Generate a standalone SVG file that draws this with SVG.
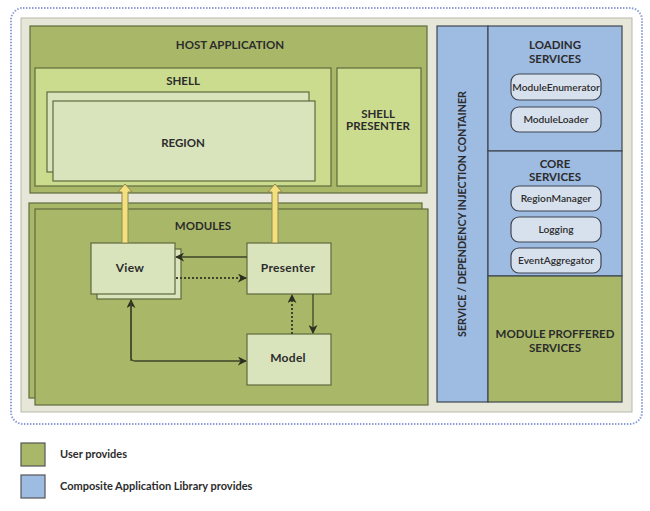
<svg xmlns="http://www.w3.org/2000/svg" width="650" height="511" viewBox="0 0 650 511">
<defs>
<style>
text{font-family:Lato,"Open Sans","Liberation Sans",sans-serif;font-weight:bold;fill:#2c2c2c;text-anchor:middle}
.cap{font-size:11.5px}
.rot{font-size:10.7px}
.nm{font-size:12px;letter-spacing:0.3px}
.pill{font-size:10.2px;font-weight:600}
.leg{font-size:11px;text-anchor:start}
.g{fill:#a9b868;stroke:#5f6a3c;stroke-width:1.2}
.lg{fill:#cbdc8f;stroke:#5f6a3c;stroke-width:1.2}
.pg{fill:#d9e4bd;stroke:#5f6a3c;stroke-width:1.2}
.b{fill:#9ebbe2;stroke:#3f4650;stroke-width:1.2}
.p{fill:#d7e1ee;stroke:#3f4650;stroke-width:1.2}
.ln{fill:none;stroke:#3d4429;stroke-width:1.3}
.dt{stroke-dasharray:2 2;stroke-width:2}
.ya{fill:#f4e07c;stroke:#8d8a55;stroke-width:1}
</style>
<marker id="ah" viewBox="0 0 10 10" refX="9" refY="5" markerWidth="9" markerHeight="9" markerUnits="userSpaceOnUse" orient="auto">
<path d="M0,0 L10,5 L0,10 L3,5 z" fill="#2b2f1f"/>
</marker>
</defs>
<rect id="frame" x="11" y="8" width="631" height="416" rx="12" fill="none" stroke="#8f9ed8" stroke-width="2" stroke-dasharray="1.5 1.5"/>
<rect id="panel" x="21" y="18" width="611" height="394" fill="#e7e7d9" stroke="#b7b9a8" stroke-width="1"/>
<g id="host">
<rect class="g" x="30" y="26" width="397" height="167"/>
<text class="cap" x="230" y="49">HOST APPLICATION</text>
</g>
<g id="shell">
<rect class="lg" x="35" y="68" width="296" height="118"/>
<text class="cap" x="183" y="85">SHELL</text>
</g>
<g id="region">
<rect class="pg" x="47" y="92" width="262" height="80"/>
<rect class="pg" x="53" y="101" width="262" height="80"/>
<text class="cap" x="183" y="147">REGION</text>
</g>
<g id="shellpresenter">
<rect class="lg" x="337" y="68" width="84" height="118"/>
<text class="cap" x="378" y="118">SHELL</text>
<text class="cap" x="378" y="130">PRESENTER</text>
</g>
<g id="modules">
<rect class="g" x="29" y="203" width="393" height="195"/>
<rect class="g" x="35" y="209" width="393" height="196"/>
<text class="cap" x="203" y="230">MODULES</text>
</g>
<g id="view">
<rect class="pg" x="97" y="249" width="84" height="50"/>
<rect class="pg" x="91" y="243" width="84" height="51"/>
<text class="nm" x="130" y="272">View</text>
</g>
<g id="presenter">
<rect class="pg" x="247" y="243" width="84" height="51"/>
<text class="nm" x="288" y="272">Presenter</text>
</g>
<g id="model">
<rect class="pg" x="247" y="334" width="84" height="51"/>
<text class="nm" x="288" y="362">Model</text>
</g>
<g id="container">
<rect class="b" x="437" y="26" width="51" height="376"/>
<text class="rot" transform="translate(466 214) rotate(-90)">SERVICE / DEPENDENCY INJECTION CONTAINER</text>
</g>
<g id="loading">
<rect class="b" x="488" y="26" width="134" height="125"/>
<text class="cap" x="555" y="49">LOADING</text>
<text class="cap" x="555" y="63">SERVICES</text>
</g>
<g id="moduleenumerator">
<rect class="p" x="511" y="74" width="90" height="26" rx="8"/>
<text class="pill" x="556" y="91">ModuleEnumerator</text>
</g>
<g id="moduleloader">
<rect class="p" x="511" y="107" width="90" height="25" rx="8"/>
<text class="pill" x="556" y="123">ModuleLoader</text>
</g>
<g id="core">
<rect class="b" x="488" y="151" width="134" height="125"/>
<text class="cap" x="555" y="168">CORE</text>
<text class="cap" x="555" y="181">SERVICES</text>
</g>
<g id="regionmanager">
<rect class="p" x="511" y="186" width="90" height="25" rx="8"/>
<text class="pill" x="556" y="202">RegionManager</text>
</g>
<g id="logging">
<rect class="p" x="511" y="217" width="90" height="25" rx="8"/>
<text class="pill" x="556" y="233">Logging</text>
</g>
<g id="eventaggregator">
<rect class="p" x="511" y="248" width="90" height="25" rx="8"/>
<text class="pill" x="556" y="264">EventAggregator</text>
</g>
<g id="proffered">
<rect class="g" x="488" y="276" width="134" height="126" style="stroke:#3f4650"/>
<text class="cap" x="555" y="338">MODULE PROFFERED</text>
<text class="cap" x="555" y="352">SERVICES</text>
</g>
<g id="connectors">
<path class="ya" d="M122,243 L122,192 L118,192 L125,184 L132,192 L128,192 L128,243 z"/>
<path class="ya" d="M272,243 L272,192 L268,192 L275,184 L282,192 L278,192 L278,243 z"/>
<line class="ln" x1="247" y1="257" x2="176" y2="257" marker-end="url(#ah)"/>
<line class="ln dt" x1="176" y1="278" x2="246" y2="278" marker-end="url(#ah)"/>
<line class="ln" x1="313" y1="294" x2="313" y2="333" marker-end="url(#ah)"/>
<line class="ln dt" x1="292" y1="334" x2="292" y2="295" marker-end="url(#ah)"/>
<path class="ln" d="M131,361 L131,300" marker-end="url(#ah)"/>
<path class="ln" d="M131,300 L131,357 Q131,361 135,361 L246,361" marker-end="url(#ah)"/>
</g>
<g id="legend">
<rect class="g" x="21" y="443" width="24" height="23" style="stroke:#555"/>
<text class="leg" x="60" y="458">User provides</text>
<rect class="b" x="21" y="475" width="24" height="23" style="stroke:#555"/>
<text class="leg" x="60" y="490">Composite Application Library provides</text>
</g>
</svg>
